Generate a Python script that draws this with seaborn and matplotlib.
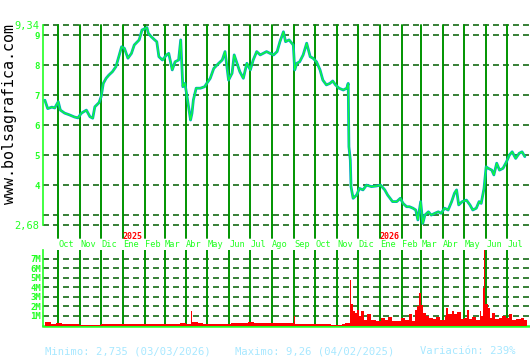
import numpy as np
import pandas as pd
import matplotlib
matplotlib.use("Agg")
import matplotlib.pyplot as plt
import matplotlib.transforms as mtransforms
import seaborn as sns

# ---------------- data ----------------
price_dates = [
    "2024-09-12", "2024-09-16", "2024-09-22", "2024-09-26", "2024-10-01", "2024-10-04",
    "2024-10-10", "2024-10-17", "2024-10-24", "2024-10-29", "2024-11-03", "2024-11-10",
    "2024-11-15", "2024-11-19", "2024-11-22", "2024-11-28", "2024-12-01", "2024-12-04",
    "2024-12-08", "2024-12-12", "2024-12-17", "2024-12-22", "2024-12-26", "2024-12-30",
    "2025-01-03", "2025-01-08", "2025-01-13", "2025-01-17", "2025-01-24", "2025-01-28",
    "2025-02-04", "2025-02-06", "2025-02-10", "2025-02-15", "2025-02-18", "2025-02-21",
    "2025-02-26", "2025-03-04", "2025-03-07", "2025-03-12", "2025-03-16", "2025-03-21",
    "2025-03-24", "2025-03-27", "2025-03-30", "2025-04-02", "2025-04-07", "2025-04-09",
    "2025-04-11", "2025-04-15", "2025-04-21", "2025-04-27", "2025-04-30", "2025-05-05",
    "2025-05-10", "2025-05-17", "2025-05-22", "2025-05-26", "2025-05-31", "2025-06-05",
    "2025-06-08", "2025-06-12", "2025-06-16", "2025-06-21", "2025-06-26", "2025-07-01",
    "2025-07-05", "2025-07-10", "2025-07-15", "2025-07-19", "2025-07-24", "2025-07-29",
    "2025-08-03", "2025-08-08", "2025-08-12", "2025-08-17", "2025-08-20", "2025-08-25",
    "2025-08-29", "2025-08-31", "2025-09-02", "2025-09-05", "2025-09-09", "2025-09-14",
    "2025-09-19", "2025-09-24", "2025-09-28", "2025-10-03", "2025-10-08", "2025-10-12",
    "2025-10-17", "2025-10-22", "2025-10-26", "2025-10-30", "2025-11-04", "2025-11-10",
    "2025-11-15", "2025-11-17", "2025-11-18", "2025-11-20", "2025-11-21", "2025-11-24",
    "2025-11-29", "2025-12-03", "2025-12-08", "2025-12-13", "2025-12-20", "2025-12-27",
    "2026-01-02", "2026-01-08", "2026-01-12", "2026-01-19", "2026-01-25", "2026-01-30",
    "2026-02-03", "2026-02-08", "2026-02-12", "2026-02-17", "2026-02-21", "2026-02-24",
    "2026-02-28", "2026-03-03", "2026-03-06", "2026-03-11", "2026-03-15", "2026-03-20",
    "2026-03-25", "2026-03-29", "2026-04-03", "2026-04-08", "2026-04-13", "2026-04-17",
    "2026-04-20", "2026-04-23", "2026-04-28", "2026-05-04", "2026-05-09", "2026-05-13",
    "2026-05-18", "2026-05-22", "2026-05-25", "2026-05-29", "2026-06-01", "2026-06-04",
    "2026-06-09", "2026-06-12", "2026-06-16", "2026-06-20", "2026-06-25", "2026-06-30",
    "2026-07-04", "2026-07-08", "2026-07-13", "2026-07-18", "2026-07-22", "2026-07-26",
]
price_values = [
    6.84, 6.56, 6.61, 6.58, 6.79, 6.51,
    6.41, 6.35, 6.28, 6.25, 6.41, 6.51,
    6.29, 6.24, 6.62, 6.76, 6.96, 7.40,
    7.57, 7.68, 7.79, 7.96, 8.29, 8.62,
    8.57, 8.24, 8.40, 8.68, 8.85, 9.18,
    9.26, 9.07, 8.96, 8.85, 8.79, 8.29,
    8.18, 8.35, 8.40, 7.85, 8.12, 8.18,
    8.85, 7.29, 7.40, 6.96, 6.18, 6.40,
    6.85, 7.24, 7.24, 7.29, 7.40, 7.57,
    7.90, 8.07, 8.18, 8.46, 7.51, 7.74,
    8.35, 8.07, 7.79, 7.57, 8.07, 7.85,
    8.18, 8.46, 8.35, 8.40, 8.46, 8.40,
    8.35, 8.46, 8.79, 9.12, 8.79, 8.85,
    8.74, 8.68, 7.85, 8.07, 8.12, 8.35,
    8.74, 8.29, 8.24, 8.12, 7.85, 7.51,
    7.35, 7.40, 7.48, 7.35, 7.24, 7.18,
    7.24, 7.40, 5.29, 4.85, 3.96, 3.57,
    3.68, 3.90, 3.85, 4.01, 3.96, 3.98,
    4.01, 3.85, 3.68, 3.46, 3.46, 3.57,
    3.40, 3.29, 3.29, 3.24, 3.18, 2.85,
    3.46, 2.735, 3.01, 3.12, 3.01, 3.07,
    3.12, 3.07, 3.24, 3.18, 3.46, 3.74,
    3.85, 3.35, 3.46, 3.51, 3.35, 3.18,
    3.24, 3.46, 3.40, 3.90, 4.62, 4.57,
    4.51, 4.35, 4.74, 4.51, 4.57, 4.79,
    5.01, 5.12, 4.90, 5.07, 5.12, 4.96,
]

vol_dates = [
    "2024-09-12", "2024-09-20", "2024-09-28", "2024-10-06", "2024-10-14", "2024-10-22",
    "2024-10-30", "2024-11-07", "2024-11-15", "2024-11-23", "2024-12-01", "2024-12-09",
    "2024-12-17", "2024-12-25", "2025-01-02", "2025-01-10", "2025-01-18", "2025-01-26",
    "2025-02-03", "2025-02-11", "2025-02-19", "2025-02-27", "2025-03-07", "2025-03-15",
    "2025-03-23", "2025-04-01", "2025-04-07", "2025-04-09", "2025-04-17", "2025-04-25",
    "2025-05-03", "2025-05-11", "2025-05-19", "2025-05-27", "2025-06-04", "2025-06-12",
    "2025-06-20", "2025-06-28", "2025-07-06", "2025-07-14", "2025-07-22", "2025-07-30",
    "2025-08-07", "2025-08-15", "2025-08-23", "2025-09-01", "2025-09-03", "2025-09-14",
    "2025-09-22", "2025-09-30", "2025-10-08", "2025-10-16", "2025-10-24", "2025-11-01",
    "2025-11-08", "2025-11-13", "2025-11-19", "2025-11-21", "2025-11-24", "2025-11-27",
    "2025-11-30", "2025-12-03", "2025-12-05", "2025-12-09", "2025-12-14", "2025-12-20",
    "2025-12-27", "2026-01-02", "2026-01-08", "2026-01-12", "2026-01-18", "2026-01-25",
    "2026-01-31", "2026-02-06", "2026-02-12", "2026-02-15", "2026-02-20", "2026-02-23",
    "2026-02-26", "2026-02-28", "2026-03-03", "2026-03-08", "2026-03-12", "2026-03-17",
    "2026-03-22", "2026-03-28", "2026-04-03", "2026-04-05", "2026-04-08", "2026-04-13",
    "2026-04-17", "2026-04-21", "2026-04-26", "2026-05-01", "2026-05-05", "2026-05-07",
    "2026-05-12", "2026-05-18", "2026-05-23", "2026-05-25", "2026-05-27", "2026-05-29",
    "2026-05-31", "2026-06-03", "2026-06-06", "2026-06-09", "2026-06-13", "2026-06-19",
    "2026-06-24", "2026-06-29", "2026-07-03", "2026-07-08", "2026-07-14", "2026-07-20",
    "2026-07-25",
]
vol_values_m = [
    0.35, 0.20, 0.25, 0.15, 0.12, 0.15,
    0.10, 0.05, 0.06, 0.10, 0.15, 0.15,
    0.18, 0.15, 0.20, 0.18, 0.15, 0.15,
    0.20, 0.15, 0.15, 0.18, 0.20, 0.15,
    0.30, 0.20, 1.50, 0.35, 0.30, 0.20,
    0.15, 0.12, 0.15, 0.20, 0.25, 0.30,
    0.25, 0.35, 0.30, 0.25, 0.30, 0.25,
    0.30, 0.25, 0.30, 1.00, 0.20, 0.20,
    0.15, 0.20, 0.15, 0.15, 0.10, 0.10,
    0.20, 0.30, 4.80, 2.30, 1.50, 1.30,
    1.60, 1.00, 1.50, 0.60, 1.20, 0.60,
    0.50, 0.80, 0.60, 0.90, 0.50, 0.50,
    0.80, 0.60, 1.20, 0.50, 1.60, 2.00,
    3.40, 2.10, 1.30, 1.00, 0.80, 0.70,
    0.90, 0.60, 1.00, 1.80, 1.20, 1.50,
    1.20, 1.40, 0.70, 0.80, 1.60, 0.70,
    0.90, 0.60, 1.50, 1.00, 3.90, 7.90,
    2.30, 1.80, 0.80, 1.30, 0.70, 0.80,
    1.00, 0.80, 1.20, 0.60, 0.70, 0.80,
    0.60,
]

month_ticks = [
    "2024-10-01", "2024-11-01", "2024-12-01", "2025-01-01", "2025-02-01", "2025-03-01",
    "2025-04-01", "2025-05-01", "2025-06-01", "2025-07-01", "2025-08-01", "2025-09-01",
    "2025-10-01", "2025-11-01", "2025-12-01", "2026-01-01", "2026-02-01", "2026-03-01",
    "2026-04-01", "2026-05-01", "2026-06-01", "2026-07-01",
]
month_labels = [
    "Oct", "Nov", "Dic", "Ene", "Feb", "Mar", "Abr", "May", "Jun", "Jul", "Ago", "Sep",
    "Oct", "Nov", "Dic", "Ene", "Feb", "Mar", "Abr", "May", "Jun", "Jul",
]
year_ticks = ["2025-01-01", "2026-01-01"]
year_labels = ["2025", "2026"]

price_yticks = [2.68, 3, 4, 5, 6, 7, 8, 9, 9.34]
price_ylabels = ["2,68", "", "4", "5", "6", "7", "8", "9", "9,34"]
vol_yticks = [1, 2, 3, 4, 5, 6, 7]
vol_ylabels = ["1M", "2M", "3M", "4M", "5M", "6M", "7M"]

stats_texts = ["Minimo: 2,735 (03/03/2026)", "Maximo: 9,26 (04/02/2025)", "Variación: 239%"]
site_text = "www.bolsagrafica.com"

# ---------------- style ----------------
sns.set_style("white")
plt.rcParams["font.family"] = ["DejaVu Sans Mono", "DejaVu Sans"]
plt.rcParams["lines.scale_dashes"] = False

BRIGHT = "#22ff22"
VGREEN = "#009400"
DGREEN = "#005c00"
TEAL = "#00a8c0"
LIME = "#11ff33"
DASH = (0, (4.3, 2.9))

x0 = pd.Timestamp("2024-09-09 08:00")
x1 = pd.Timestamp("2026-08-02 08:00")

fig = plt.figure(figsize=(5.3, 3.6), dpi=100)
ax = fig.add_axes([43 / 530, 1 - 225 / 360, 487 / 530, 199.8 / 360])
axv = fig.add_axes([43 / 530, 1 - 325.5 / 360, 487 / 530, 75.5 / 360])

mt = pd.to_datetime(month_ticks)

# ---- price panel ----
df = pd.DataFrame({"date": pd.to_datetime(price_dates), "price": price_values})
for yv in price_yticks:
    ax.axhline(yv, color=DGREEN, lw=1.1, ls=DASH, clip_on=False, zorder=1)
for d in mt:
    ax.axvline(d, ymin=-0.065, ymax=1, color=VGREEN, lw=1.4, clip_on=False, zorder=1)

sns.lineplot(data=df, x="date", y="price", ax=ax, color=TEAL, lw=2.0, zorder=3)
sns.lineplot(data=df, x="date", y="price", ax=ax, color=LIME, lw=0.9, zorder=4)

ax.set_xlim(x0, x1)
ax.set_ylim(2.68, 9.34)
ax.set_xlabel("")
ax.set_ylabel("")
ax.set_yticks(price_yticks)
ax.set_yticklabels(price_ylabels)
ax.tick_params(axis="y", length=0, pad=2.5, colors=BRIGHT)
for lbl in ax.get_yticklabels():
    if "," in lbl.get_text():
        lbl.set_fontsize(7.5)
    else:
        lbl.set_fontsize(6.5)
        lbl.set_fontweight("bold")
ax.set_xticks(mt)
ax.set_xticklabels(month_labels, ha="left")
ax.tick_params(axis="x", length=0, pad=10.8, colors=BRIGHT, labelsize=6.2)
for s in ["top", "right", "bottom"]:
    ax.spines[s].set_visible(False)
ax.spines["left"].set_color(BRIGHT)
ax.spines["left"].set_linewidth(1.2)
ax.grid(False)

trans = mtransforms.blended_transform_factory(ax.transData, ax.transAxes)
for d, lab in zip(pd.to_datetime(year_ticks), year_labels):
    ax.text(d, -0.057, lab, transform=trans, color="#ff0000", fontsize=6,
            fontweight="bold", ha="left", va="center")

# ---- volume panel ----
vd = pd.to_datetime(vol_dates)
widths = np.append(np.diff(vd.values), np.timedelta64(4, "D"))
for yv in vol_yticks:
    axv.axhline(yv, color=DGREEN, lw=1.1, ls=DASH, zorder=1)
for d in mt:
    axv.axvline(d, color=VGREEN, lw=1.4, zorder=1)
axv.bar(vd.values, vol_values_m, width=widths, align="edge", color="#ff0000",
        linewidth=0, zorder=3)
axv.set_xlim(x0, x1)
axv.set_ylim(0, 7.9)
axv.set_xticks([])
axv.set_yticks(vol_yticks)
axv.set_yticklabels(vol_ylabels)
axv.tick_params(axis="y", length=0, pad=1.5, colors=BRIGHT, labelsize=6.5)
for lbl in axv.get_yticklabels():
    lbl.set_fontweight("bold")
for s in ["top", "right"]:
    axv.spines[s].set_visible(False)
axv.spines["left"].set_color(BRIGHT)
axv.spines["left"].set_linewidth(1.2)
axv.spines["bottom"].set_color(BRIGHT)
axv.spines["bottom"].set_linewidth(1.8)
axv.grid(False)

# ---- texts ----
fig.text(10 / 530, 1 - 114 / 360, site_text, rotation=90, fontsize=10.8,
         ha="center", va="center", color="black")
for xp, t in zip([45, 235, 420], stats_texts):
    fig.text(xp / 530, 1 - 351 / 360, t, fontsize=7.6, color="#a8e8ff",
             ha="left", va="center")

fig.savefig("out.png", dpi=100, facecolor="white")
